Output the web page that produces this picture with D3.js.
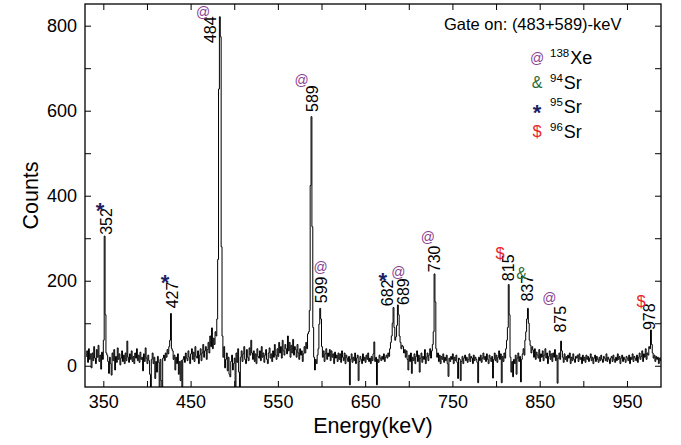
<!DOCTYPE html>
<html>
<head>
<meta charset="utf-8">
<script src="https://cdn.jsdelivr.net/npm/d3@7"></script>
<style>
  body { margin: 0; background: #fff; }
  text { font-family: "Liberation Sans", Arial, Helvetica, sans-serif; }
</style>
</head>
<body>
<div id="canvas"></div>
<script>
"use strict";

/* spectrum: counts per 1-keV channel, first channel at 330 keV */
const binStart = 330;
const counts = [
  22, 35, 8, 40, 15, 28, -5, 30, 12, 45,
  18, 5, 38, 20, 48, 10, 25, -8, 32, 15,
  60, 305, 120, 30, 25, 10, -18, 20, 5, -22,
  30, 12, 38, -10, 22, 8, 42, 15, 28, 2,
  18, 35, 10, 25, 5, 30, 12, 58, 20, 8,
  28, 15, 35, 10, 22, 5, 30, 18, 40, 12,
  25, 8, 32, 15, 20, -12, 28, 10, 42, 18,
  5, 25, 12, -20, -55, 15, 30, 5, 20, -30,
  10, -15, 22, 8, -55, 15, -35, -55, 18, 25,
  12, 30, 20, 38, 28, 45, 60, 123, 40, 35,
  15, 25, -10, 20, 5, 28, -20, 10, -35, 12,
  -55, 15, 22, 8, 30, 18, 12, 35, 20, 5,
  28, 40, 15, 32, 10, 45, 22, 18, 35, 5,
  25, 40, 12, 30, 50, 20, 35, 45, 15, 38,
  55, 30, 70, 45, 89, 40, 65, 50, 80, 70,
  110, 250, 651, 821, 774, 280, 70, 20, 45, -5,
  15, 30, -12, 20, -20, -26, 10, 25, -10, 5,
  18, -55, 30, 8, 40, -15, -55, 20, 35, 10,
  28, 45, 15, 5, 38, 20, 12, 42, 25, 60,
  30, 15, 35, 10, 28, 5, 40, 22, 18, 35,
  12, 45, 20, 30, 8, 25, 38, 15, 5, 30,
  42, 18, 28, 10, 35, 20, 50, 25, 15, 40,
  22, 55, 30, 45, 18, 60, 35, 25, 50, 40,
  28, 70, 35, 55, 20, 48, 30, 62, 25, 45,
  38, 20, 50, 30, 15, 40, 25, 35, 10, 28,
  45, 30, 55, 40, 75, 80, 130, 424, 586, 327,
  90, 20, -10, 15, 5, 25, 40, 98, 135, 110,
  45, 20, 35, 10, 28, 40, 15, 30, 22, 38,
  12, 35, 20, 28, 5, 32, 18, 25, 10, 30,
  15, 28, 8, 35, 20, 12, 30, 5, 25, 18,
  10, 22, -45, 15, 28, 8, 20, 12, 30, 5,
  18, 25, -35, 10, 22, 15, 5, 28, 12, 20,
  8, 25, 15, 30, 10, 18, 5, 22, 12, 28,
  56, 10, 20, -45, 15, 8, 25, 18, 12, 22,
  15, 28, 10, 20, 25, 18, 30, 22, 40, 55,
  70, 100, 137, 90, 60, 68, 95, 143, 120, 70,
  55, 40, 48, 45, 30, 38, 20, 35, 15, -10,
  25, 10, 30, -18, 20, 12, 28, 5, 22, 35,
  10, 25, -15, 18, 30, 8, 22, 15, 38, 5,
  20, 30, 12, 25, 40, 18, 35, 50, 80, 216,
  150, 40, 20, 30, 10, 25, 5, 22, 15, 28,
  8, 20, 12, 25, 5, -25, 18, 10, 22, 15,
  28, 5, 20, 12, 25, 8, -30, 18, 15, -35,
  10, 22, 5, 18, 25, 12, 20, 8, 15, 28,
  10, 22, 18, 5, 25, 12, 20, 15, 8, -40,
  20, 12, 25, 8, 18, 30, 15, 22, 10, 28,
  15, 5, 25, 18, 10, 22, -29, 15, 30, 12,
  25, 8, 20, 35, 15, 28, -40, 22, 10, 30,
  18, 40, 60, 90, 191, 120, 20, -15, 10, -26,
  15, 5, 25, -20, 18, 30, 10, 22, -38, 15,
  28, 40, 25, 60, 80, 110, 135, 100, 60, 48,
  30, 45, 37, 20, 40, 15, 32, 25, 18, 38,
  10, 28, 20, 35, 12, 25, 40, 18, 30, 5,
  22, 35, 15, 28, 10, 30, 20, 38, 12, 25,
  -41, 18, 30, 15, 58, 35, 20, 8, 28, 15,
  22, 10, 25, 18, 30, 5, 20, 12, 28, 15,
  8, 22, 18, 25, 10, 28, 15, 20, 5, 25,
  12, 20, 8, 25, 15, 22, 10, 18, 28, 12,
  20, 5, 18, 25, 10, 22, 15, 8, 20, 12,
  25, 15, 8, 22, 18, 12, 28, 10, 20, 15,
  5, 18, 22, 10, 25, 15, 8, 20, 12, 28,
  15, 22, 5, 18, 25, 10, 20, 15, 8, 22,
  18, 12, 25, 5, 20, 15, 28, 10, 22, 18,
  12, 25, 8, 20, 30, 15, 22, 35, 10, 28,
  20, 40, 15, 30, 25, 45, 40, 84, 50, 30,
  18, 25, 10, 22, 15, 20, 5, 18, 12, 20
];

/* peak labels: text, label centre energy, label foot (counts) */
const peakNames  = ["352", "427", "484", "589", "599", "682", "689", "730", "815", "837", "875", "978"];
const peakLabelE = [353, 428.7, 472.8, 589.1, 599.8, 675, 693.4, 728.9, 813.7, 835.5, 873.3, 975.3];
const peakLabelC = [308, 135, 759, 597, 147, 140, 143, 220, 199, 151, 78, 84];

/* nucleus markers on the peaks */
const markSym = ["*", "*", "@", "@", "@", "*", "@", "@", "$", "&", "@", "$"];
const markE   = [346.2, 420.7, 464.2, 577.3, 599.1, 670.1, 688, 722, 804.5, 829.3, 861, 966.1];
const markC   = [378, 209, 832, 672, 233, 213, 221, 303, 265, 217, 159, 151];

/* legend */
const legendSym  = ["@", "&", "*", "$"];
const legendMass = ["138", "94", "95", "96"];
const legendElem = ["Xe", "Sr", "Sr", "Sr"];

const symColor = { "@": "#8a3f92", "&": "#2e6a34", "*": "#1e1f63", "$": "#e8262e" };
const symSize  = { "@": 14, "&": 16, "*": 22, "$": 16.5 };

const xTicks = d3.range(350, 990, 50);
const xLabels = [350, 450, 550, 650, 750, 850, 950];
const yTicks = d3.range(0, 900, 100);
const yLabels = [0, 200, 400, 600, 800];

const W = 681, H = 445;
const pL = 85, pR = 661, pT = 4, pB = 387;

const svg = d3.select("#canvas").append("svg")
  .attr("width", W)
  .attr("height", H);

const x = d3.scaleLinear().domain([329, 989]).range([pL, pR]);
const y = d3.scaleLinear().domain([-50, 851]).range([pB, pT]);

svg.append("defs").append("clipPath").attr("id", "plotclip")
  .append("rect")
  .attr("x", pL).attr("y", pT)
  .attr("width", pR - pL).attr("height", pB - pT);

// spectrum as a histogram step line
const pts = counts.map((c, i) => [binStart + i, c]);
pts.push([binStart + counts.length, counts[counts.length - 1]]);

svg.append("path")
  .datum(pts)
  .attr("clip-path", "url(#plotclip)")
  .attr("fill", "none")
  .attr("stroke", "#000")
  .attr("stroke-width", 1)
  .attr("d", d3.line().x(d => x(d[0])).y(d => y(d[1])).curve(d3.curveStepAfter));

// axes (ticks inward on all four sides)
const fmtX = d => xLabels.includes(d) ? d : "";
const fmtY = d => yLabels.includes(d) ? d : "";

const gx = svg.append("g").attr("transform", `translate(0,${pB})`)
  .call(d3.axisBottom(x).tickValues(xTicks).tickSize(-6).tickSizeOuter(0).tickPadding(8).tickFormat(fmtX));
const gxt = svg.append("g").attr("transform", `translate(0,${pT})`)
  .call(d3.axisTop(x).tickValues(xTicks).tickSize(-6).tickSizeOuter(0).tickFormat(""));
const gy = svg.append("g").attr("transform", `translate(${pL},0)`)
  .call(d3.axisLeft(y).tickValues(yTicks).tickSize(-6).tickSizeOuter(0).tickPadding(8).tickFormat(fmtY));
const gyr = svg.append("g").attr("transform", `translate(${pR},0)`)
  .call(d3.axisRight(y).tickValues(yTicks).tickSize(-6).tickSizeOuter(0).tickFormat(""));

[gx, gxt, gy, gyr].forEach(g => {
  g.select(".domain").remove();
  g.selectAll(".tick line").attr("stroke", "#000").attr("stroke-width", 1);
  g.selectAll(".tick text")
    .attr("fill", "#000")
    .attr("font-size", "18px")
    .attr("font-family", "'Liberation Sans', Arial, sans-serif");
});

svg.append("rect")
  .attr("x", pL).attr("y", pT)
  .attr("width", pR - pL).attr("height", pB - pT)
  .attr("fill", "none")
  .attr("stroke", "#000")
  .attr("stroke-width", 1.3);

// axis titles
svg.append("text")
  .attr("x", (pL + pR) / 2)
  .attr("y", 433)
  .attr("text-anchor", "middle")
  .attr("font-size", "21.5px")
  .text("Energy(keV)");

svg.append("text")
  .attr("transform", `translate(38,${(pT + pB) / 2}) rotate(-90)`)
  .attr("text-anchor", "middle")
  .attr("font-size", "21.5px")
  .text("Counts");

// peak energy labels (rotated)
peakNames.forEach((t, i) => {
  const px = x(peakLabelE[i]) + 5.8;
  const py = y(peakLabelC[i]);
  svg.append("text")
    .attr("transform", `translate(${px},${py}) rotate(-90)`)
    .attr("font-size", "16px")
    .attr("fill", "#000")
    .text(t);
});

// marker glyph centred on (cx, cy)
function drawSym(parent, s, cx, cy) {
  const isStar = s === "*";
  parent.append("text")
    .attr("x", cx)
    .attr("y", cy)
    .attr("dy", isStar ? "0.6em" : "0.36em")
    .attr("text-anchor", "middle")
    .attr("font-size", symSize[s] + "px")
    .attr("font-weight", isStar ? "bold" : "normal")
    .attr("fill", symColor[s])
    .text(s);
}

markSym.forEach((s, i) => drawSym(svg, s, x(markE[i]), y(markC[i])));

// gate text
svg.append("text")
  .attr("x", 444)
  .attr("y", 30)
  .attr("font-size", "16.5px")
  .text("Gate on: (483+589)-keV");

// legend rows
const legend = svg.append("g");
legendSym.forEach((s, i) => {
  const by = 64 + i * 24.5;
  drawSym(legend, s, 537, by - 6);

  const t = legend.append("text")
    .attr("x", 550)
    .attr("y", by)
    .attr("font-size", "18px");
  t.append("tspan").attr("font-size", "11.5px").attr("dy", "-7").text(legendMass[i]);
  t.append("tspan").attr("dy", "7").attr("dx", "1").text(legendElem[i]);
});
</script>
</body>
</html>
